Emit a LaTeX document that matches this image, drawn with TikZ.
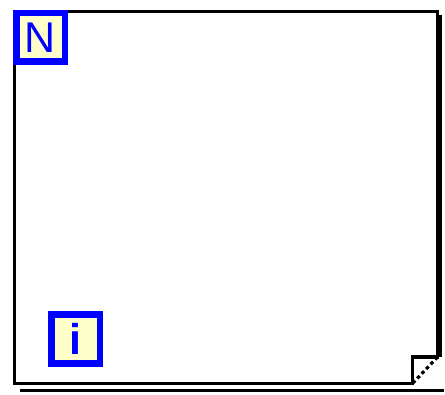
\documentclass[tikz,border=0pt]{standalone}
\usepackage{fontspec}
\setsansfont{Liberation Sans}
\usepackage{tikz}
\usetikzlibrary{positioning}
\definecolor{cream}{RGB}{255,255,204}

\begin{document}
\begin{tikzpicture}[
    x=1pt, y=-1pt,
    terminal/.style={rectangle, draw=blue, line width=6.5pt, fill=cream, minimum size=48.5pt, inner sep=0pt, text=blue, font=\sffamily\fontsize{43}{43}\selectfont},
    frame/.style={draw=black, line width=3.2pt, fill=white, line join=miter},
    shadow/.style={draw=black, line width=3.2pt},
    fold/.style={draw=black, line width=3.2pt, dash pattern=on 3.5pt off 3pt}
]
\useasboundingbox (0,0) rectangle (445,395);

% Shadow
\draw[shadow] (440.5,15) -- (440.5,357);
\draw[shadow] (20,390.5) -- (444,390.5);

% Frame with folded corner
\draw[frame] (14.5,11.5) -- (437.5,11.5) -- (437.5,357) -- (412.5,357)
    -- (412.5,383.5) -- (14.5,383.5) -- cycle;
\draw[fold] (437.5,357) -- (412.5,383.5);

% Count terminal
\node[terminal] (count) at (40.5,37.5) {N};

% Iteration terminal
\node[terminal, minimum height=49pt, font=\sffamily\bfseries\fontsize{43}{43}\selectfont] (iter) at (75.5,339) {i};

\end{tikzpicture}
\end{document}
